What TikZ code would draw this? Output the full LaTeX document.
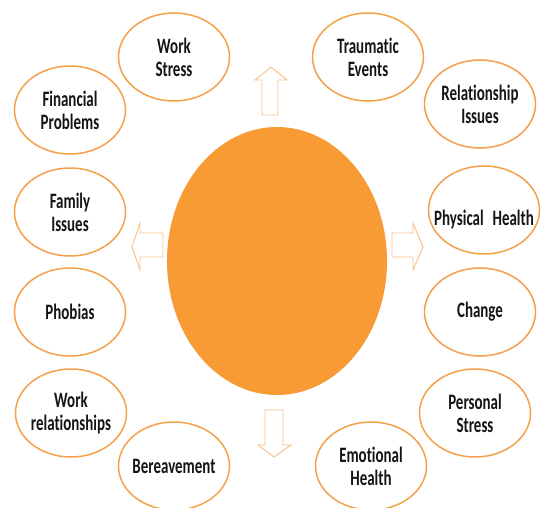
\documentclass[tikz,border=0pt]{standalone}
\usepackage{fontspec}
\setmainfont[FakeStretch=0.68,RawFeature={-liga}]{Carlito}
\usetikzlibrary{shapes.geometric}
\definecolor{ringc}{HTML}{F5A04A}
\definecolor{bigc}{HTML}{F99B35}
\definecolor{arrc}{HTML}{F7BE8A}
\definecolor{txtc}{HTML}{151515}
\begin{document}
\begin{tikzpicture}[x=1pt,y=-1pt,
  bubble/.style={ellipse,draw=ringc,line width=1.5pt,fill=white,minimum width=111pt,minimum height=88pt,inner sep=0pt},
  lbl/.style={align=center,text=txtc,inner sep=0pt,font=\fontsize{22}{23}\selectfont\bfseries},
  hollowarrow/.style={draw=arrc,line width=0.9pt,fill=white,line join=miter}]
\useasboundingbox (0,0) rectangle (541,507);
\fill[white] (0,0) rectangle (541,507);
% central ellipse
\node[ellipse,fill=bigc,minimum width=220pt,minimum height=268pt,inner sep=0pt] (hub) at (277,261) {};
% bubbles
\node[bubble] (ws) at (174,57) {};
\node[bubble] (fp) at (70,110) {};
\node[bubble] (te) at (368,57) {};
\node[bubble] (ri) at (480,104) {};
\node[bubble] (fi) at (70,212) {};
\node[bubble] (ph) at (70,312) {};
\node[bubble] (wr) at (71,413) {};
\node[bubble] (be) at (174,466) {};
\node[bubble] (phy) at (484,210) {};
\node[bubble] (ch) at (480,312) {};
\node[bubble] (ps) at (475,413) {};
\node[bubble] (eh) at (371,466) {};
% labels
\node[lbl] (wsl) at (ws) {Work\\Stress};
\node[lbl] (fpl) at (fp) {Financial\\Problems};
\node[lbl] (tel) at (te) {Traumatic\\Events};
\node[lbl] (ril) at (ri) {Relationship\\Issues};
\node[lbl] (fil) at (fi) {Family\\Issues};
\node[lbl] (phl) at (ph) {Phobias};
\node[lbl] (wrl) at (wr) {Work\\relationships};
\node[lbl] (bel) at (be) {Bereavement};
\node[lbl] (phyl) at ([yshift=-10pt]phy.center) {Physical\hspace{0.4em}Health};
\node[lbl] (chl) at (ch) {Change};
\node[lbl] (psl) at (ps) {Personal\\Stress};
\node[lbl] (ehl) at (eh) {Emotional\\Health};
% hollow arrows
\draw[hollowarrow] (262,115) -- (262,80) -- (255,80) -- (271,67) -- (287,80) -- (278,80) -- (278,115) -- cycle;
\draw[hollowarrow] (163,233) -- (140,233) -- (140,223) -- (132,247) -- (140,270) -- (140,257) -- (163,257) -- cycle;
\draw[hollowarrow] (392,233) -- (413,233) -- (413,223) -- (423,247) -- (413,270) -- (413,257) -- (392,257) -- cycle;
\draw[hollowarrow] (265,410) -- (283,410) -- (283,445) -- (291,445) -- (274,457) -- (258,445) -- (265,445) -- cycle;
\end{tikzpicture}
\end{document}
